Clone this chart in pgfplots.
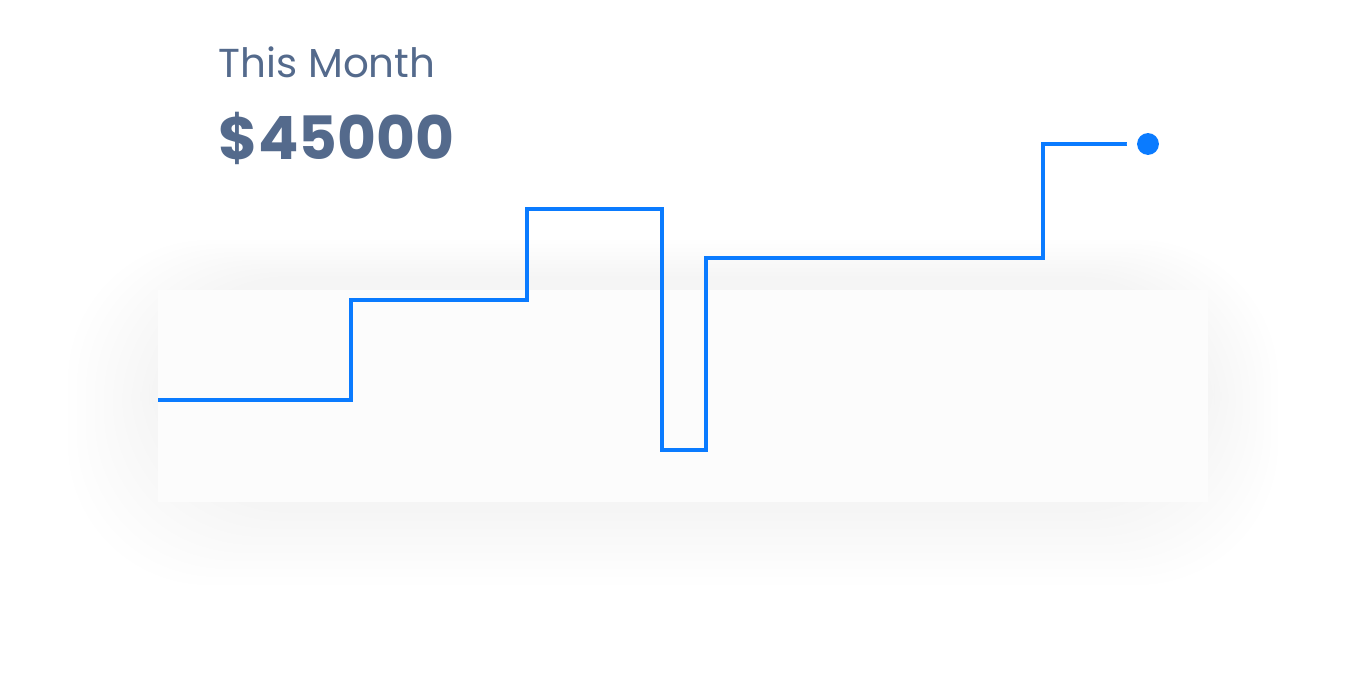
\documentclass[border=0pt]{standalone}
\usepackage{pgfplots}
\pgfplotsset{compat=1.18}
\usepackage{fontspec}
\setmainfont{Poppins}
\definecolor{ln}{HTML}{0A7BFF}
\definecolor{tx}{HTML}{546A8C}
\begin{document}
\begin{tikzpicture}
\begin{axis}[width=13.65cm,height=6.8cm,scale only axis,xmin=0,xmax=1365,ymin=0,ymax=680,
axis lines=none,clip=false]
\path (axis cs:0,0) rectangle (axis cs:1365,680);
\foreach \i in {1,...,10}{
 \edef\t{\noexpand\fill[black,opacity=0.0035,rounded corners=40pt] (axis cs:{158-9*\i},{175-8*\i}) rectangle (axis cs:{1208+7*\i},{400+4*\i});}\t
}
\fill[black!1] (axis cs:158,178) rectangle (axis cs:1208,390);
\addplot[const plot,ln,line width=1.4pt] coordinates {
(158,280) (351,380) (527,471) (662,230) (706,422) (1043,536) (1148,536)};
\addplot[only marks,mark=*,mark size=6pt,white,draw opacity=0] coordinates {(1148,536)};
\addplot[only marks,mark=*,mark size=2.9pt,ln] coordinates {(1148,536)};
\node[anchor=base west,inner sep=0pt,text=tx,font=\fontsize{11.5}{13}\selectfont] at (axis cs:218,602) {This Month};
\node[anchor=base west,inner sep=0pt,text=tx,font=\fontsize{17}{20}\selectfont\bfseries] at (axis cs:218,520) {\$45000};
\end{axis}
\end{tikzpicture}
\end{document}
